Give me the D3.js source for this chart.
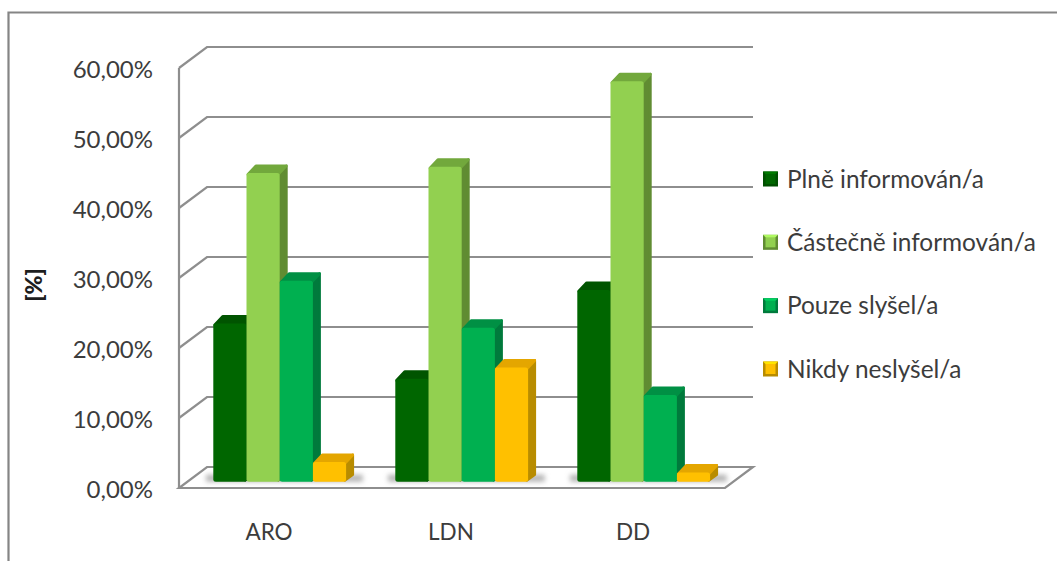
<!DOCTYPE html>
<html lang="cs">
<head>
<meta charset="utf-8">
<script src="https://cdn.jsdelivr.net/npm/d3@7/dist/d3.min.js"></script>
<style>
  html, body { margin: 0; padding: 0; background: #fff; }
  svg { display: block; }
  text { font-family: Lato, "Open Sans", sans-serif; fill: #3c3c3c; }
</style>
</head>
<body>
<svg id="chart" width="1057" height="561"></svg>
<script>
// Survey answers per ward, in percent
const categories = ["ARO", "LDN", "DD"];
const seriesNames = ["Plně informován/a", "Částečně informován/a", "Pouze slyšel/a", "Nikdy neslyšel/a"];
const plne = [22.6, 14.7, 27.4];
const castecne = [44.1, 45.0, 57.2];
const pouze = [28.7, 22.0, 12.4];
const nikdy = [2.8, 16.3, 1.3];
const yTicks = [0, 10, 20, 30, 40, 50, 60];

const seriesValues = [plne, castecne, pouze, nikdy];
const faceColors = ["#006600", "#92d050", "#00b050", "#ffc000"];
const topColors = ["#005400", "#72a83c", "#009044", "#e4a600"];
const sideColors = ["#004f00", "#608c32", "#007a3c", "#b88c00"];

const svg = d3.select("#chart");

// Oblique projection of the chart box
const depth = { dx: 28, dy: -21 };
const barDepth = { dx: 8, dy: -8.5 };
const barPlane = -6.3;
const gridColor = "#8e8e8e";

const x = d3.scaleBand().domain(categories).range([179, 725]);
const inner = d3.scaleBand().domain(d3.range(seriesNames.length))
  .range([34.3, x.bandwidth() - 14.9]);
const y = d3.scaleLinear().domain([0, 60]).range([488, 68]);

// Soft shadow filter and outer frame
const defs = svg.append("defs");
defs.append("filter").attr("id", "soft")
  .attr("x", "-30%").attr("y", "-100%").attr("width", "160%").attr("height", "300%")
  .append("feGaussianBlur").attr("stdDeviation", 2.6);

svg.append("path")
  .attr("d", "M8.5,561V12.5H1057")
  .attr("fill", "none").attr("stroke", "#858585").attr("stroke-width", 2.2);

// Floor
const floorLeft = x.range()[0], floorRight = x.range()[1];
svg.append("path")
  .attr("d", d3.line()([
    [floorLeft, y(0)], [floorRight, y(0)],
    [floorRight + depth.dx, y(0) + depth.dy], [floorLeft + depth.dx, y(0) + depth.dy]
  ]) + "Z")
  .attr("fill", "#fff").attr("stroke", gridColor).attr("stroke-width", 2.2);

// Gridlines on the side and back walls
const grid = svg.append("g").attr("fill", "none")
  .attr("stroke", gridColor).attr("stroke-width", 2.2);
grid.selectAll("path.wall").data(yTicks.filter(d => d > 0)).join("path")
  .attr("class", "wall")
  .attr("d", d => d3.line()([
    [floorLeft, y(d)],
    [floorLeft + depth.dx, y(d) + depth.dy],
    [floorRight + depth.dx, y(d) + depth.dy]
  ]));
grid.append("path")
  .attr("d", d3.line()([[floorLeft, y(0)], [floorLeft, y(60)]]));

// Value axis labels
const axis = d3.axisLeft(y).tickValues(yTicks).tickSize(0).tickPadding(26)
  .tickFormat(d => d3.format(".2f")(d).replace(".", ",") + "%");
const axisG = svg.append("g").attr("transform", `translate(${floorLeft},2)`).call(axis);
axisG.select(".domain").remove();
axisG.selectAll("text").attr("font-size", 24).style("font-family", "Lato, sans-serif");

svg.append("text")
  .attr("transform", "translate(42,285) rotate(-90)")
  .attr("text-anchor", "middle").attr("font-size", 23).attr("font-weight", 900)
  .style("fill", "#1e1e1e")
  .text("[%]");

// Category labels
svg.append("g").selectAll("text").data(categories).join("text")
  .attr("x", d => x(d) + x.bandwidth() / 2 - 1)
  .attr("y", 540)
  .attr("text-anchor", "middle").attr("font-size", 22.5)
  .text(d => d);

// Flatten the series into one record per bar
const bars = categories.flatMap((cat, c) =>
  seriesValues.map((vals, s) => ({ cat, s, value: vals[c] })));
const barX = d => x(d.cat) + inner(d.s);
const barW = inner.bandwidth();
const baseY = y(0) + barPlane;
const topY = d => y(d.value) + barPlane;

// Contact shadows on the floor
svg.append("g").selectAll("rect").data(categories).join("rect")
  .attr("x", d => x(d) + 27)
  .attr("y", baseY - 7)
  .attr("width", inner.bandwidth() * 4 + 24)
  .attr("height", 7)
  .attr("fill", "#b4b4b4")
  .attr("filter", "url(#soft)");

// Bars, each with a face, a top and a right side; the thick round stroke softens the corners
const corner = 1.4;
const barG = svg.append("g").selectAll("g").data(bars).join("g")
  .attr("stroke-linejoin", "round").attr("stroke-width", corner * 2);

barG.append("path").attr("class", "side")
  .attr("d", d => d3.line()([
    [barX(d) + barW - corner, baseY - corner],
    [barX(d) + barW + barDepth.dx - corner, baseY + barDepth.dy + corner],
    [barX(d) + barW + barDepth.dx - corner, topY(d) + barDepth.dy + corner],
    [barX(d) + barW - corner, topY(d) + corner]
  ]) + "Z")
  .attr("fill", d => sideColors[d.s]).attr("stroke", d => sideColors[d.s]);

barG.append("path").attr("class", "top")
  .attr("d", d => d3.line()([
    [barX(d) + corner, topY(d) + corner],
    [barX(d) + barDepth.dx + corner, topY(d) + barDepth.dy + corner],
    [barX(d) + barW + barDepth.dx - corner, topY(d) + barDepth.dy + corner],
    [barX(d) + barW - corner, topY(d) + corner]
  ]) + "Z")
  .attr("fill", d => topColors[d.s]).attr("stroke", d => topColors[d.s]);

barG.append("rect").attr("class", "face")
  .attr("x", d => barX(d))
  .attr("y", d => topY(d))
  .attr("width", barW)
  .attr("height", d => baseY - topY(d))
  .attr("rx", 2.5)
  .attr("fill", d => faceColors[d.s]);

// Legend with pillow-shaped swatches
const legendY = d3.scalePoint().domain(seriesNames).range([179, 369]);
const legend = svg.append("g").selectAll("g").data(seriesNames).join("g")
  .attr("transform", d => `translate(763,${legendY(d)})`);
const swatch = 15;
legend.append("rect")
  .attr("x", 0).attr("y", -swatch / 2).attr("width", swatch).attr("height", swatch)
  .attr("fill", (d, i) => sideColors[i]);
legend.append("path")
  .attr("d", d3.line()([[0, -swatch / 2], [swatch, -swatch / 2], [swatch / 2, 0]]) + "Z")
  .attr("fill", (d, i) => d3.color(faceColors[i]).brighter(0.5));
legend.append("path")
  .attr("d", d3.line()([[2.5, -swatch / 2 + 2.5], [swatch - 2.5, -swatch / 2 + 2.5],
    [swatch - 2.5, swatch / 2 - 2.5], [2.5, swatch / 2 - 2.5]]) + "Z")
  .attr("fill", (d, i) => faceColors[i]);
legend.append("text")
  .attr("x", 24).attr("y", 0).attr("dy", "0.35em")
  .attr("font-size", 24.4)
  .text(d => d);
</script>
</body>
</html>
